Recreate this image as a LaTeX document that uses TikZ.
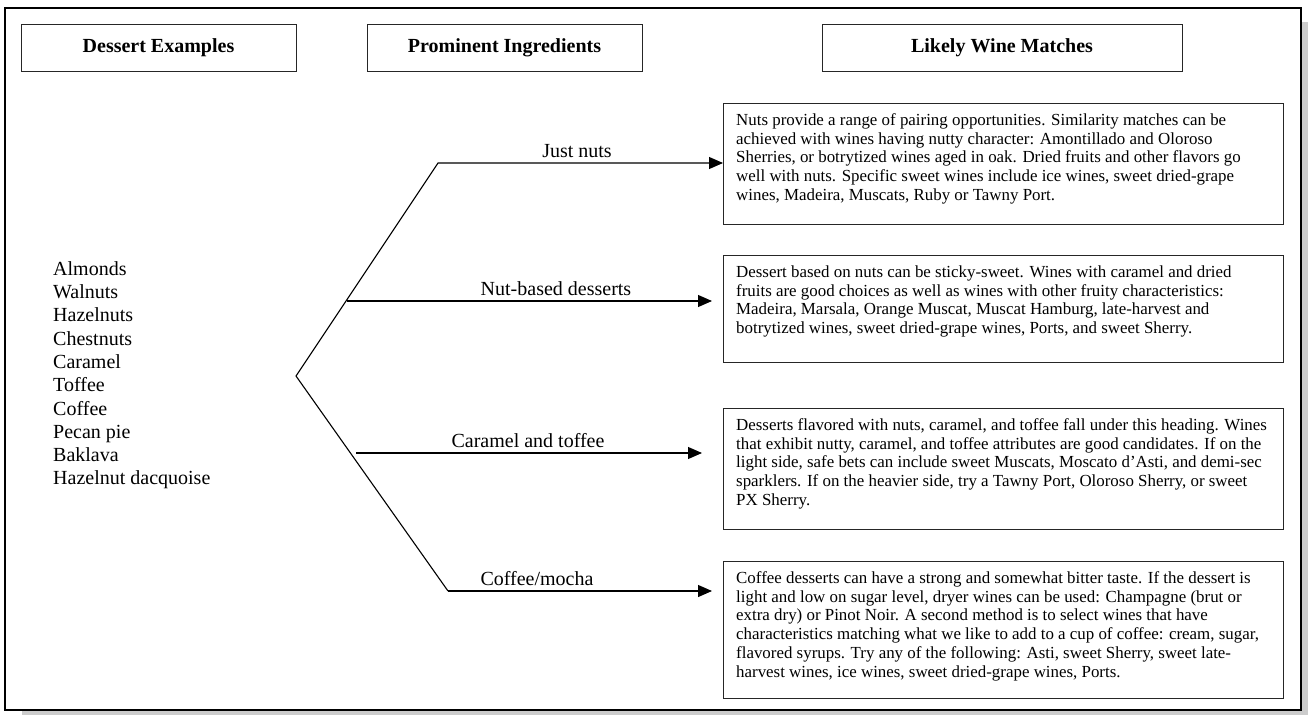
\documentclass[tikz,border=0pt]{standalone}
\usepackage{fontspec}
\setmainfont{Liberation Serif}
\usetikzlibrary{arrows.meta}
\begin{document}
\begin{tikzpicture}[x=1pt,y=-1pt,
  hdr/.style={draw=black!85, line width=1pt, minimum height=47pt, inner sep=0pt, font=\fontsize{20}{24}\selectfont\bfseries},
  wbox/.style={draw=black!85, line width=1pt, anchor=north west, minimum width=560pt, inner sep=0pt},
  wtext/.style={anchor=north west, align=left, inner sep=0pt, font=\fontsize{16.9}{18.8}\selectfont},
  lbl/.style={anchor=base, font=\fontsize{20}{24}\selectfont, inner sep=0pt},
  arr/.style={line width=1.1pt, -{Triangle[length=14pt,width=12pt]}}
]
\useasboundingbox (0,0) rectangle (1308,715);
\fill[gray!40] (22,22) rectangle (1308,715);
\draw[fill=white, line width=1.5pt] (5,8) rectangle (1301,710);

% headers
\node[hdr, minimum width=275pt] (h1) at (158.5,47.5) {Dessert Examples};
\node[hdr, minimum width=275pt] (h2) at (504.5,47.5) {Prominent Ingredients};
\node[hdr, minimum width=360pt] (h3) at (1002,47.5) {Likely Wine Matches};

% dessert list
\node[anchor=north west, align=left, inner sep=0pt, font=\fontsize{20}{23.3}\selectfont] (list) at (53,258.7)
 {\strut Almonds\\Walnuts\\Hazelnuts\\Chestnuts\\Caramel\\Toffee\\Coffee\\Pecan pie\\Baklava\\Hazelnut dacquoise};

% wine boxes
\node[wbox, minimum height=121pt] (b1) at (723,103) {};
\node[wbox, minimum height=107pt] (b2) at (723,255) {};
\node[wbox, minimum height=121pt] (b3) at (723,408) {};
\node[wbox, minimum height=137pt] (b4) at (723,561) {};

\node[wtext] (t1) at ([xshift=13pt,yshift=-9pt]b1.north west)
 {\strut Nuts provide a range of pairing opportunities. Similarity matches can be\\
  achieved with wines having nutty character: Amontillado and Oloroso\\
  Sherries, or botrytized wines aged in oak. Dried fruits and other flavors go\\
  well with nuts. Specific sweet wines include ice wines, sweet dried-grape\\
  wines, Madeira, Muscats, Ruby or Tawny Port.};
\node[wtext] (t2) at ([xshift=13pt,yshift=-9pt]b2.north west)
 {\strut Dessert based on nuts can be sticky-sweet. Wines with caramel and dried\\
  fruits are good choices as well as wines with other fruity characteristics:\\
  Madeira, Marsala, Orange Muscat, Muscat Hamburg, late-harvest and\\
  botrytized wines, sweet dried-grape wines, Ports, and sweet Sherry.};
\node[wtext] (t3) at ([xshift=13pt,yshift=-9pt]b3.north west)
 {\strut Desserts flavored with nuts, caramel, and toffee fall under this heading. Wines\\
  that exhibit nutty, caramel, and toffee attributes are good candidates. If on the\\
  light side, safe bets can include sweet Muscats, Moscato d’Asti, and demi-sec\\
  sparklers. If on the heavier side, try a Tawny Port, Oloroso Sherry, or sweet\\
  PX Sherry.};
\node[wtext] (t4) at ([xshift=13pt,yshift=-9pt]b4.north west)
 {\strut Coffee desserts can have a strong and somewhat bitter taste. If the dessert is\\
  light and low on sugar level, dryer wines can be used: Champagne (brut or\\
  extra dry) or Pinot Noir. A second method is to select wines that have\\
  characteristics matching what we like to add to a cup of coffee: cream, sugar,\\
  flavored syrups. Try any of the following: Asti, sweet Sherry, sweet late-\\
  harvest wines, ice wines, sweet dried-grape wines, Ports.};

% branches
\coordinate (v) at (296,376);
\coordinate (tp) at (438,163);
\coordinate (bt) at (448,591);
\coordinate (s2) at (347,301);
\coordinate (s3) at (356,453);

\draw[arr] (bt) -- (v) -- (tp) -- (tp -| b1.west);
\draw[arr, shorten >=11pt] (s2) -- (s2 -| b2.west);
\draw[arr, shorten >=21pt] (s3) -- (s3 -| b3.west);
\draw[arr, shorten >=11pt] (bt) -- (bt -| b4.west);

% labels
\node[lbl] (l1) at (577,157) {Just nuts};
\node[lbl] (l2) at (556,295) {Nut-based desserts};
\node[lbl] (l3) at (528,447) {Caramel and toffee};
\node[lbl] (l4) at (537,585) {Coffee/mocha};
\end{tikzpicture}
\end{document}
